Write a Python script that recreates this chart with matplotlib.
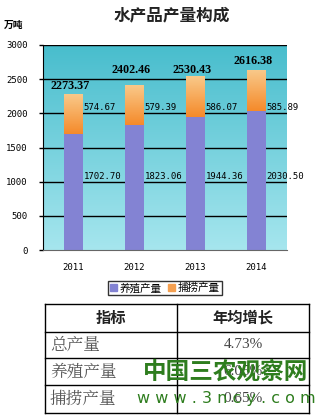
import numpy as np
import matplotlib.pyplot as plt
from matplotlib.patches import Rectangle
from matplotlib.colors import LinearSegmentedColormap

plt.rcParams['font.family'] = ['Noto Sans CJK SC', 'DejaVu Sans']

# data
years = ['2011', '2012', '2013', '2014']
aquaculture = [1702.70, 1823.06, 1944.36, 2030.50]
capture = [574.67, 579.39, 586.07, 585.89]
totals = [2273.37, 2402.46, 2530.43, 2616.38]
total_label_pad = [45, 150, 15, 60]
table_rows = ['总产量', '养殖产量', '捕捞产量']
table_vals = ['4.73%', '6.05%', '0.65%']

W, H = 316, 416
fig = plt.figure(figsize=(W / 100, H / 100), dpi=100)
fig.patch.set_facecolor('white')

def fx(px):
    return px / W

def fy(py):
    return 1 - py / H

ax = fig.add_axes([fx(43), fy(250), fx(287) - fx(43), fy(45) - fy(250)])
x = np.arange(len(years))

# gradient plot background
bg = LinearSegmentedColormap.from_list('bg', ['#a6e6ee', '#48bdcd'])
grad = np.linspace(0, 1, 256).reshape(-1, 1)
ax.imshow(grad, cmap=bg, aspect='auto', extent=[-0.5, 3.5, 0, 3000],
          origin='lower', zorder=0)

for v in range(500, 3001, 500):
    ax.axhline(v, color='black', lw=1.0, zorder=1)

bw = 0.31
ax.bar(x, aquaculture, width=bw, color='#8383d3', zorder=2)

# capture bars with orange gradient
org = LinearSegmentedColormap.from_list('org', ['#f58a2a', '#f9c98a'])
bars = ax.bar(x, capture, bottom=aquaculture, width=bw, color='none', zorder=3)
for b in bars:
    x0, y0 = b.get_x(), b.get_y()
    ax.imshow(grad, cmap=org, aspect='auto', origin='lower',
              extent=[x0, x0 + b.get_width(), y0, y0 + b.get_height()], zorder=3)
ax.set_xlim(-0.5, 3.5)
ax.set_ylim(0, 3000)

for i in range(len(years)):
    ax.text(x[i] - 0.05, totals[i] + total_label_pad[i], f'{totals[i]:.2f}',
            ha='center', va='bottom', fontsize=8.7, fontweight='bold',
            family='Liberation Serif', zorder=5)
    ax.text(x[i] + bw / 2 + 0.01, 2090, f'{capture[i]:.2f}', ha='left', va='center',
            fontsize=6.5, family='DejaVu Sans Mono', zorder=5)
    ax.text(x[i] + bw / 2 + 0.01, 1080, f'{aquaculture[i]:.2f}', ha='left',
            va='center', fontsize=6.5, family='DejaVu Sans Mono', zorder=5)

ax.set_yticks(range(0, 3001, 500))
ax.set_yticklabels([str(v) for v in range(0, 3001, 500)],
                   fontsize=6.5, family='DejaVu Sans Mono')
ax.set_xticks(x)
ax.set_xticklabels(years, fontsize=6.5, family='DejaVu Sans Mono')
ax.tick_params(axis='x', length=0, pad=9)
ax.tick_params(axis='y', length=3, width=1, pad=8)
for s in ['top', 'right']:
    ax.spines[s].set_visible(False)
ax.spines['left'].set_color('black')
ax.spines['bottom'].set_color('#666666')

fig.text(fx(172), fy(15), '水产品产量构成', ha='center', va='center',
         fontsize=12, fontweight='bold', color='#222222')
fig.text(fx(4), fy(25), '万吨', ha='left', va='center', fontsize=7, fontweight='bold')

h1 = Rectangle((0, 0), 1, 1, color='#8383d3')
h2 = Rectangle((0, 0), 1, 1, color='#f5a050')
leg = fig.legend([h1, h2], ['养殖产量', '捕捞产量'], loc='center',
                 bbox_to_anchor=(fx(165), fy(288)), ncol=2, fontsize=7.6,
                 frameon=True, fancybox=False, edgecolor='black',
                 handlelength=0.6, handleheight=0.6, handletextpad=0.3,
                 columnspacing=0.6, borderpad=0.2, borderaxespad=0)
leg.get_frame().set_linewidth(1.0)

# table
tax = fig.add_axes([0, 0, 1, 1])
tax.set_xlim(0, W)
tax.set_ylim(H, 0)
tax.axis('off')
left, mid, right = 45, 177, 309
rows_y = [304, 332, 358, 385, 413]
for yy in rows_y:
    tax.plot([left, right], [yy, yy], color='black', lw=1)
for xx in [left, mid, right]:
    tax.plot([xx, xx], [rows_y[0], rows_y[-1]], color='black', lw=1)
tax.text((left + mid) / 2, (rows_y[0] + rows_y[1]) / 2, '指标', ha='center',
         va='center', fontsize=11, fontweight='bold', color='#222222')
tax.text((mid + right) / 2, (rows_y[0] + rows_y[1]) / 2, '年均增长', ha='center',
         va='center', fontsize=11, fontweight='bold', color='#222222')
for i, (name, val) in enumerate(zip(table_rows, table_vals)):
    yc = (rows_y[i + 1] + rows_y[i + 2]) / 2
    tax.text(left + 5, yc, name, ha='left', va='center', fontsize=12,
             color='#555555', family=['Noto Serif CJK SC', 'Noto Sans CJK SC'])
    tax.text((mid + right) / 2, yc, val, ha='center', va='center', fontsize=11,
             color='#444444', family='Liberation Serif')

# watermark
tax.text(226, 372, '中国三农观察网', ha='center', va='center', fontsize=17,
         fontweight='bold', color='#2e7d1e')
tax.text(226, 398, 'w w w . 3 n c y . c o m', ha='center', va='center',
         fontsize=11.5, color='#2e7d1e', family='DejaVu Sans')

fig.savefig('out.png', dpi=100)
